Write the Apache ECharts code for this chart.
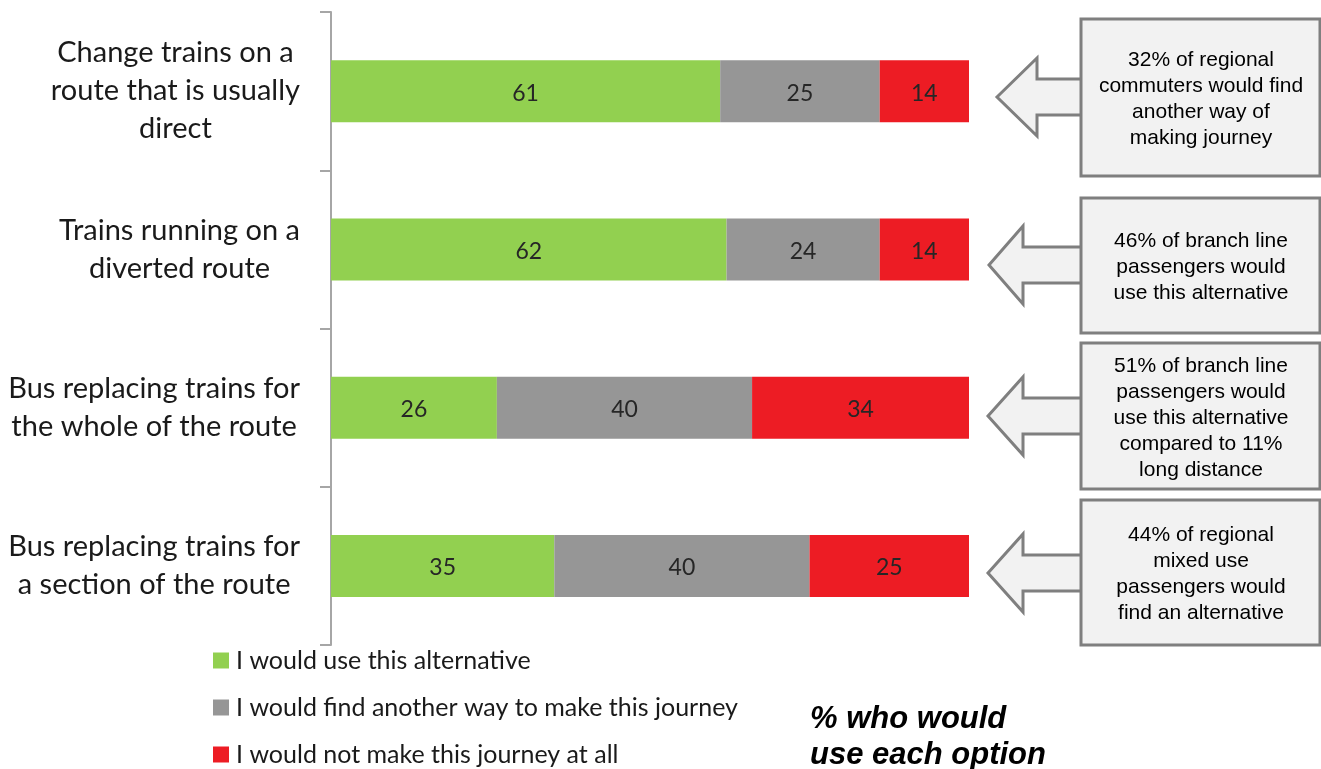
<!DOCTYPE html>
<html><head><meta charset="utf-8">
<script src="https://cdn.jsdelivr.net/npm/echarts@6/dist/echarts.min.js"></script>
<style>html,body{margin:0;padding:0;background:#fff}#c{width:1321px;height:769px}</style>
</head><body><div id="c"></div>
<script>
var categories = [
  'Change trains on a\nroute that is usually\ndirect',
  'Trains running on a\ndiverted route',
  'Bus replacing trains for\nthe whole of the route',
  'Bus replacing trains for\na section of the route'
];
var seriesNames = ['I would use this alternative', 'I would find another way to make this journey', 'I would not make this journey at all'];
var useAlt = [61, 62, 26, 35];
var findOther = [25, 24, 40, 40];
var notMake = [14, 14, 34, 25];
var colors = ['#92d050', '#969696', '#ed1c24'];
var callouts = [
  '32% of regional\ncommuters would find\nanother way of\nmaking journey',
  '46% of branch line\npassengers would\nuse this alternative',
  '51% of branch line\npassengers would\nuse this alternative\ncompared to 11%\nlong distance',
  '44% of regional\nmixed use\npassengers would\nfind an alternative'
];
var titleText = '% who would\nuse each option';

var chart = echarts.init(document.getElementById('c'));
var font = 'Lato, "Noto Sans", sans-serif';

function bar(name, data, color) {
  return {
    name: name, type: 'bar', stack: 'all', data: data, barWidth: 62,
    itemStyle: { color: color },
    label: { show: true, position: 'inside', color: '#262626', fontSize: 23, fontFamily: font, offset: [0, 2] }
  };
}

var boxes = [
  { top: 19, bottom: 176, tipX: 997, tipY: 97, headX: 1037 },
  { top: 198, bottom: 333, tipX: 989, tipY: 265, headX: 1023 },
  { top: 343, bottom: 489, tipX: 988, tipY: 416, headX: 1023 },
  { top: 500, bottom: 645, tipX: 988, tipY: 573, headX: 1023 }
];
var graphics = [];
boxes.forEach(function (b, i) {
  var boxL = 1081;
  var hh = 39, sh = 18;
  graphics.push({
    type: 'polygon',
    shape: { points: [[b.tipX, b.tipY], [b.headX, b.tipY - hh], [b.headX, b.tipY - sh], [boxL + 2, b.tipY - sh], [boxL + 2, b.tipY + sh], [b.headX, b.tipY + sh], [b.headX, b.tipY + hh]] },
    style: { fill: '#f2f2f2', stroke: '#7f7f7f', lineWidth: 3, lineJoin: 'miter' }
  });
  graphics.push({
    type: 'rect',
    shape: { x: boxL, y: b.top, width: 239, height: b.bottom - b.top },
    style: { fill: '#f2f2f2', stroke: '#7f7f7f', lineWidth: 3 }
  });
  graphics.push({
    type: 'text',
    x: 1201, y: (b.top + b.bottom) / 2 + 2,
    style: { text: callouts[i], fill: '#000', font: '21px "Liberation Sans", Arial, sans-serif', align: 'center', verticalAlign: 'middle', lineHeight: 26 }
  });
});
graphics.push({
  type: 'text', left: 810, top: 701,
  style: { text: titleText, fill: '#000', font: 'italic bold 31px "Liberation Sans", Arial, sans-serif', lineHeight: 36 }
});

chart.setOption({
  animation: false,
  grid: { left: 331, right: 352, top: 12, bottom: 124, containLabel: false },
  xAxis: { type: 'value', min: 0, max: 100, show: false },
  yAxis: {
    type: 'category', data: categories, inverse: true,
    axisLine: { lineStyle: { color: '#a6a6a6', width: 2 } },
    axisTick: { show: true, length: 11, lineStyle: { color: '#a6a6a6', width: 2 } },
    axisLabel: {
      margin: 31, color: '#1a1a1a', fontSize: 29, fontFamily: font, lineHeight: 38, align: 'right',
      formatter: function (v) { return v.split('\n').map(function (s) { return '{c|' + s + '}'; }).join('\n'); },
      rich: { c: { align: 'center', fontSize: 29, fontFamily: font, lineHeight: 38, color: '#1a1a1a' } }
    }
  },
  legend: {
    orient: 'vertical', left: 213, top: 648, padding: 0, itemWidth: 16, itemHeight: 16, itemGap: 22,
    icon: 'rect', data: seriesNames,
    textStyle: { fontSize: 25, lineHeight: 24, fontFamily: font, color: '#1a1a1a', padding: [0, 0, 0, 2] }
  },
  series: [bar(seriesNames[0], useAlt, colors[0]), bar(seriesNames[1], findOther, colors[1]), bar(seriesNames[2], notMake, colors[2])],
  graphic: graphics
});
</script></body></html>
